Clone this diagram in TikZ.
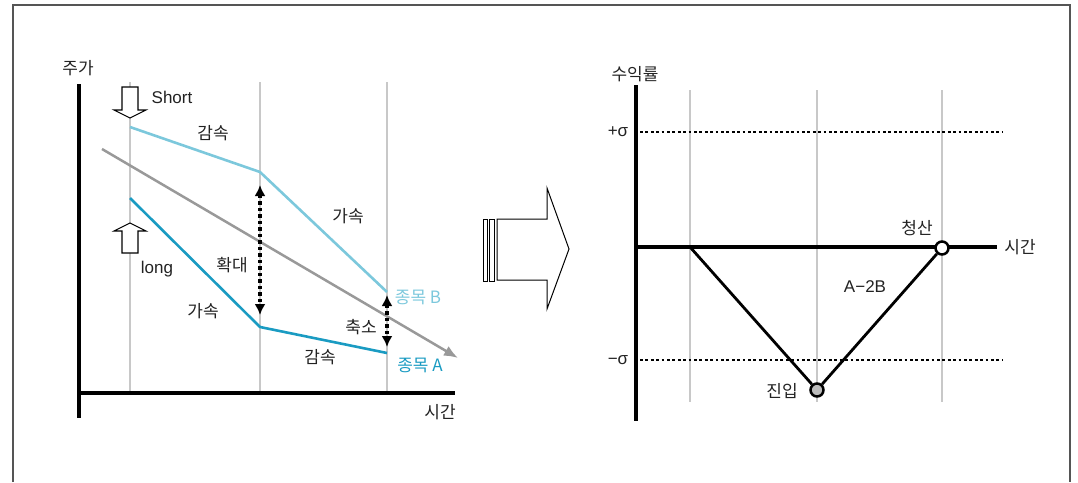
\documentclass[tikz,border=0pt]{standalone}
\usepackage{fontspec}
\setmainfont{Liberation Sans}
\newfontfamily\kr{Noto Sans CJK KR}
\usetikzlibrary{arrows.meta}
\definecolor{lb}{HTML}{7CC8DC}
\definecolor{tl}{HTML}{1A9BC2}
\definecolor{gv}{HTML}{C8C8C8}
\definecolor{ga}{HTML}{999999}
\definecolor{tx}{HTML}{222222}
\definecolor{fr}{HTML}{555555}
\definecolor{dotfill}{HTML}{BBBBBB}
\begin{document}
\begin{tikzpicture}[x=1pt,y=-1pt,
  axisline/.style={line width=3.2pt,black},
  gridline/.style={line width=2.5pt,gv},
  lbl/.style={font=\kr\fontsize{17}{17}\selectfont,text=tx,inner sep=0pt},
  latin/.style={font=\fontsize{17}{17}\selectfont,text=tx,inner sep=0pt},
  dotarrow/.style={line width=3.5pt,dash pattern=on 3.5pt off 3pt,
     {Latex[length=11pt,width=11pt]}-{Latex[length=11pt,width=11pt]}},
  sigline/.style={line width=2.5pt,dash pattern=on 2.8pt off 2.6pt,black},
  blockarrow/.style={draw=black,line width=1.1pt,fill=white},
  dot/.style={circle,draw=black,line width=2.5pt,minimum size=13pt,inner sep=0pt}]
\useasboundingbox (0,0) rectangle (1078,482);
% frame
\draw[fr,line width=1.2pt] (13,482) -- (13,5) -- (1070,5) -- (1070,482);

% ===== left chart =====
\coordinate (ly0) at (79,84);
\coordinate (lorig) at (79,418);
\coordinate (lx0) at (79,393);
\coordinate (lx1) at (455,393);
\foreach \n/\x in {1/130,2/260,3/387}{
  \coordinate (lvt\n) at (\x,82);
  \coordinate (lvb\n) at (\x,395);
  \draw[gridline] (lvt\n) -- (lvb\n);
}
\draw[axisline] (ly0) -- (lorig);
\draw[axisline] (lx0) -- (lx1);
\node[lbl] (ylab) at (78,68) {주가};
\node[lbl] (xlab) at (440,412) {시간};

% gray trend arrow
\coordinate (g1) at (102,149);
\coordinate (g2) at (458,358);
\draw[ga,line width=2.5pt,-{Latex[length=14pt,width=11pt]}] (g1) -- (g2);

% stock B
\coordinate (b1) at (130,127);
\coordinate (b2) at (260,172);
\coordinate (b3) at (387,292);
\draw[lb,line width=2.6pt] (b1) -- (b2) -- (b3);
% stock A
\coordinate (a1) at (130,198);
\coordinate (a2) at (260,327);
\coordinate (a3) at (387,353);
\draw[tl,line width=2.6pt] (a1) -- (a2) -- (a3);

% dotted double arrows
\coordinate (e1) at (260,185);
\coordinate (e2) at (260,315);
\draw[dotarrow] (e1) -- (e2);
\coordinate (c1) at (387,295);
\coordinate (c2) at (387,347);
\draw[dotarrow] (c1) -- (c2);

% short / long block arrows
\draw[blockarrow] (122,87) -- (138,87) -- (138,110) -- (146,110) -- (130,118) -- (114,110) -- (122,110) -- cycle;
\draw[blockarrow] (122,253) -- (138,253) -- (138,231) -- (146,231) -- (130,223) -- (114,231) -- (122,231) -- cycle;
\node[latin] (short) at (172,97) {Short};
\node[latin] (long) at (157,269) {long};

% labels
\node[lbl] (dec1) at (213,133) {감속};
\node[lbl] (acc1) at (348,216) {가속};
\node[lbl] (acc2) at (203,311) {가속};
\node[lbl] (dec2) at (320,357) {감속};
\node[lbl] (exp) at (232,265) {확대};
\node[lbl] (shr) at (361,327) {축소};
\node[lbl,text=lb] (stB) at (418,297) {종목 B};
\node[lbl,text=tl] (stA) at (420,365) {종목 A};

% ===== middle arrow =====
\draw[black,line width=1pt,fill=white] (483,219) rectangle (487,281);
\draw[black,line width=1pt,fill=white] (489.5,219) rectangle (494,281);
\draw[black,line width=1pt,fill=white] (497,219) -- (547,219) -- (547,188) -- (569,249) -- (547,309) -- (547,280) -- (497,280) -- cycle;

% ===== right chart =====
\coordinate (ry0) at (636,85);
\coordinate (ry1) at (636,421);
\coordinate (rx0) at (636,247);
\coordinate (rx1) at (997,247);
\foreach \n/\x in {1/690,2/817,3/942}{
  \coordinate (rvt\n) at (\x,90);
  \coordinate (rvb\n) at (\x,402);
  \draw[gridline] (rvt\n) -- (rvb\n);
}
\coordinate (ps0) at (640,132);
\coordinate (ps1) at (1003,132);
\coordinate (ms0) at (640,360);
\coordinate (ms1) at (1003,360);
\draw[sigline] (ps0) -- (ps1);
\draw[sigline] (ms0) -- (ms1);
\draw[axisline] (ry0) -- (ry1);
\draw[axisline] (rx0) -- (rx1);
\node[lbl] (rylab) at (635,74) {수익률};
\node[lbl] (rxlab) at (1020,247) {시간};
\node[latin] (psig) at (618,132) {+σ};
\node[latin] (msig) at (618,360) {−σ};

\coordinate (v0) at (690,247);
\node[dot,fill=dotfill] (entry) at (817,390) {};
\node[dot,fill=white] (exit) at (942,248) {};
\draw[black,line width=2.8pt] (v0) -- (entry) -- (exit);
\node[lbl] (entl) at (782,391) {진입};
\node[lbl] (extl) at (917,228) {청산};
\node[latin] (a2b) at (865,287) {A−2B};
\end{tikzpicture}
\end{document}
